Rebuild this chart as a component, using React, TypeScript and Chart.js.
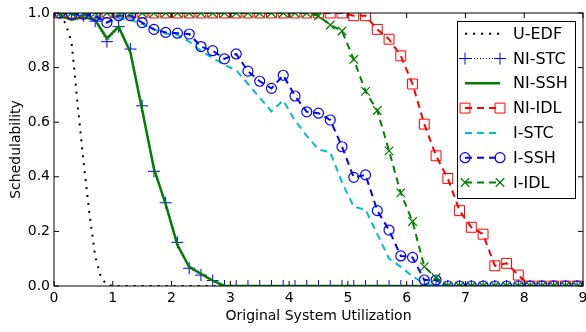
import React, { useEffect, useRef } from 'react';
import { Chart, registerables } from 'chart.js';
import { drawPoint } from 'chart.js/helpers';

Chart.register(...registerables);

const FONT = 'DejaVu Sans';

// x positions of the sampled utilizations
const utilization = [
  0.1, 0.3, 0.5, 0.7, 0.9, 1.1, 1.3, 1.5, 1.7, 1.9,
  2.1, 2.3, 2.5, 2.7, 2.9, 3.1, 3.3, 3.5, 3.7, 3.9,
  4.1, 4.3, 4.5, 4.7, 4.9, 5.1, 5.3, 5.5, 5.7, 5.9,
  6.1, 6.3, 6.5, 6.7, 6.9, 7.1, 7.3, 7.5, 7.7, 7.9,
  8.1, 8.3, 8.5, 8.7, 8.9,
];

const uedfX = [0.1, 0.2, 0.3, 0.4, 0.5, 0.6, 0.7, 0.8, 0.9, 1.0, 9.0];
const uEDF = [0.995, 0.96, 0.89, 0.67, 0.46, 0.27, 0.11, 0.03, 0.005, 0, 0];

const niSTC = [
  1.0, 1.0, 0.99, 0.97, 0.895, 0.95, 0.868, 0.66, 0.42, 0.305,
  0.16, 0.065, 0.04, 0.02, 0, 0, 0, 0, 0, 0,
  0, 0, 0, 0, 0, 0, 0, 0, 0, 0,
  0, 0, 0, 0, 0, 0, 0, 0, 0, 0,
  0, 0, 0, 0, 0,
];

const niSSH = [
  0.99, 0.975, 0.985, 0.975, 0.907, 0.95, 0.855, 0.645, 0.43, 0.3,
  0.15, 0.07, 0.045, 0.02, 0, 0, 0, 0, 0, 0,
  0, 0, 0, 0, 0, 0, 0, 0, 0, 0,
  0, 0, 0, 0, 0, 0, 0, 0, 0, 0,
  0, 0, 0, 0, 0,
];

const niIDL = [
  1, 1, 1, 1, 1, 1, 1, 1, 1, 1,
  1, 1, 1, 1, 1, 1, 1, 1, 1, 1,
  1, 1, 1, 1, 1, 0.99, 0.99, 0.94, 0.904, 0.843,
  0.74, 0.593, 0.477, 0.394, 0.276, 0.215, 0.19, 0.074, 0.083, 0.04,
  0, 0, 0, 0, 0,
];

const iSTC = [
  1.0, 0.995, 0.99, 0.985, 0.965, 0.98, 0.975, 0.96, 0.94, 0.925,
  0.92, 0.895, 0.862, 0.835, 0.81, 0.79, 0.74, 0.69, 0.64, 0.68,
  0.605, 0.55, 0.5, 0.49, 0.38, 0.29, 0.28, 0.19, 0.1, 0.07,
  0.035, 0.01, 0, 0, 0, 0, 0, 0, 0, 0,
  0, 0, 0, 0, 0,
];

const iSSH = [
  1.0, 0.995, 0.995, 0.99, 0.965, 0.99, 0.99, 0.965, 0.94, 0.929,
  0.926, 0.923, 0.877, 0.862, 0.832, 0.85, 0.787, 0.75, 0.724, 0.772,
  0.696, 0.638, 0.633, 0.608, 0.51, 0.398, 0.407, 0.276, 0.205, 0.11,
  0.105, 0.022, 0.022, 0, 0, 0, 0, 0, 0, 0,
  0, 0, 0, 0, 0,
];

const iIDL = [
  1, 1, 1, 1, 1, 1, 1, 1, 1, 1,
  1, 1, 1, 1, 1, 1, 1, 1, 1, 1,
  1, 1, 0.99, 0.956, 0.934, 0.83, 0.713, 0.643, 0.495, 0.341,
  0.236, 0.071, 0.03, 0, 0, 0, 0, 0, 0, 0,
  0, 0, 0, 0, 0,
];

const xTickValues = [0, 1, 2, 3, 4, 5, 6, 7, 8, 9];
const yTickValues = [0, 0.2, 0.4, 0.6, 0.8, 1.0];
const yTickLabels = ['0.0', '0.2', '0.4', '0.6', '0.8', '1.0'];

const seriesNames = ['U-EDF', 'NI-STC', 'NI-SSH', 'NI-IDL', 'I-STC', 'I-SSH', 'I-IDL'];

const pts = (xs: number[], ys: number[]) => xs.map((x, i) => ({ x, y: ys[i] }));

const BLUE = '#0000ff';
const GREEN = '#008000';
const RED = '#ff0000';
const CYAN = '#00bfbf';
const DASH = [7, 5];

const framePlugin = {
  id: 'mplFrame',
  afterDatasetsDraw(chart: any) {
    const { ctx, chartArea: a, scales } = chart;
    ctx.save();
    ctx.strokeStyle = '#000';
    ctx.lineWidth = 1;
    ctx.setLineDash([]);
    const tl = 5;
    ctx.beginPath();
    for (const v of xTickValues) {
      const px = scales.x.getPixelForValue(v);
      ctx.moveTo(px, a.bottom);
      ctx.lineTo(px, a.bottom - tl);
      ctx.moveTo(px, a.top);
      ctx.lineTo(px, a.top + tl);
    }
    for (const v of yTickValues) {
      const py = scales.y.getPixelForValue(v);
      ctx.moveTo(a.left, py);
      ctx.lineTo(a.left + tl, py);
      ctx.moveTo(a.right, py);
      ctx.lineTo(a.right - tl, py);
    }
    ctx.stroke();
    ctx.strokeRect(a.left, a.top, a.right - a.left, a.bottom - a.top);

    // legend
    const bw = 118;
    const bh = 177;
    const bx = a.right - 8 - bw;
    const by = a.top + 8;
    ctx.fillStyle = '#fff';
    ctx.fillRect(bx, by, bw, bh);
    ctx.strokeStyle = '#000';
    ctx.lineWidth = 1;
    ctx.strokeRect(bx + 0.5, by + 0.5, bw, bh);
    const ds = chart.data.datasets;
    ds.forEach((d: any, i: number) => {
      const y = by + 12.7 + i * 24.8;
      const x0 = bx + 8;
      const x1 = bx + 43;
      ctx.save();
      ctx.strokeStyle = d.borderColor;
      ctx.lineWidth = d.borderWidth;
      ctx.setLineDash(d.borderDash || []);
      ctx.beginPath();
      ctx.moveTo(x0, y);
      ctx.lineTo(x1, y);
      ctx.stroke();
      ctx.setLineDash([]);
      if (d.pointRadius > 0) {
        ctx.strokeStyle = d.pointBorderColor;
        ctx.fillStyle = 'rgba(0,0,0,0)';
        ctx.lineWidth = d.pointBorderWidth;
        const opts = { pointStyle: d.pointStyle, rotation: 0, radius: d.pointRadius, borderWidth: d.pointBorderWidth };
        drawPoint(ctx, opts, x0, y);
        drawPoint(ctx, opts, x1, y);
      }
      ctx.restore();
      ctx.fillStyle = '#000';
      ctx.font = `16px "${FONT}"`;
      ctx.textBaseline = 'middle';
      ctx.textAlign = 'left';
      ctx.fillText(seriesNames[i], bx + 56, y + 1);
    });
    ctx.restore();
  },
};

const zeroPad = (s: any) => {
  s.paddingLeft = 0;
  s.paddingRight = 0;
  s.paddingTop = 0;
  s.paddingBottom = 0;
};

export default function App() {
  const ref = useRef<HTMLCanvasElement | null>(null);

  useEffect(() => {
    if (!ref.current) return;
    const base = {
      fill: false,
      tension: 0,
      clip: 0,
      pointBackgroundColor: 'rgba(0,0,0,0)',
      pointHoverRadius: 0,
    };
    const chart = new Chart(ref.current, {
      type: 'line',
      data: {
        datasets: [
          {
            ...base,
            label: seriesNames[0],
            data: pts(uedfX, uEDF),
            borderColor: '#000',
            borderWidth: 2,
            borderDash: [2, 6],
            pointRadius: 0,
            order: 6,
          },
          {
            ...base,
            label: seriesNames[1],
            data: pts(utilization, niSTC),
            borderColor: BLUE,
            borderWidth: 1,
            borderDash: [1, 2],
            pointStyle: 'cross',
            pointRadius: 6,
            pointBorderWidth: 1,
            pointBorderColor: BLUE,
            order: 5,
          },
          {
            ...base,
            label: seriesNames[2],
            data: pts(utilization, niSSH),
            borderColor: GREEN,
            borderWidth: 2.5,
            borderDash: [],
            pointRadius: 0,
            order: 4,
          },
          {
            ...base,
            label: seriesNames[3],
            data: pts(utilization, niIDL),
            borderColor: RED,
            borderWidth: 2,
            borderDash: DASH,
            pointStyle: 'rect',
            pointRadius: 7,
            pointBorderWidth: 1,
            pointBorderColor: RED,
            order: 3,
          },
          {
            ...base,
            label: seriesNames[4],
            data: pts(utilization, iSTC),
            borderColor: CYAN,
            borderWidth: 2,
            borderDash: DASH,
            pointRadius: 0,
            order: 2,
          },
          {
            ...base,
            label: seriesNames[5],
            data: pts(utilization, iSSH),
            borderColor: BLUE,
            borderWidth: 2,
            borderDash: DASH,
            pointStyle: 'circle',
            pointRadius: 5,
            pointBorderWidth: 1.2,
            pointBorderColor: BLUE,
            order: 1,
          },
          {
            ...base,
            label: seriesNames[6],
            data: pts(utilization, iIDL),
            borderColor: GREEN,
            borderWidth: 2,
            borderDash: DASH,
            pointStyle: 'crossRot',
            pointRadius: 6,
            pointBorderWidth: 1.3,
            pointBorderColor: GREEN,
            order: 0,
          },
        ],
      },
      options: {
        animation: false,
        responsive: false,
        events: [],
        layout: { padding: { top: 13, right: 3, left: 0, bottom: 0 }, autoPadding: false },
        plugins: { legend: { display: false }, tooltip: { enabled: false } },
        scales: {
          x: {
            type: 'linear',
            min: 0,
            max: 9,
            afterFit: (s: any) => { s.height = 46; zeroPad(s); },
            afterBuildTicks: (s: any) => { s.ticks = xTickValues.map((v) => ({ value: v })); },
            ticks: {
              font: { family: FONT, size: 14 },
              color: '#000',
              padding: 4,
              maxRotation: 0,
              autoSkip: false,
              callback: (v: any) => String(v),
            },
            grid: { display: false, drawTicks: false },
            border: { display: false },
            title: {
              display: true,
              text: 'Original System Utilization',
              font: { family: FONT, size: 14 },
              color: '#000',
              padding: { top: 0, bottom: 7 },
            },
          },
          y: {
            type: 'linear',
            min: 0,
            max: 1,
            afterFit: (s: any) => { s.width = 54; zeroPad(s); },
            afterBuildTicks: (s: any) => { s.ticks = yTickValues.map((v) => ({ value: v })); },
            ticks: {
              font: { family: FONT, size: 14 },
              color: '#000',
              padding: 4,
              autoSkip: false,
              callback: (v: any) => yTickLabels[yTickValues.findIndex((t) => Math.abs(t - v) < 1e-6)],
            },
            grid: { display: false, drawTicks: false },
            border: { display: false },
            title: {
              display: true,
              text: 'Schedulability',
              font: { family: FONT, size: 14 },
              color: '#000',
              padding: { top: 8, bottom: 0 },
            },
          },
        },
      },
      plugins: [framePlugin],
    } as any);
    return () => chart.destroy();
  }, []);

  return (
    <div style={{ position: 'fixed', left: 0, top: 0, width: 586, height: 332, background: '#fff' }}>
      <canvas ref={ref} width={586} height={332} style={{ display: 'block', width: 586, height: 332 }} />
    </div>
  );
}
